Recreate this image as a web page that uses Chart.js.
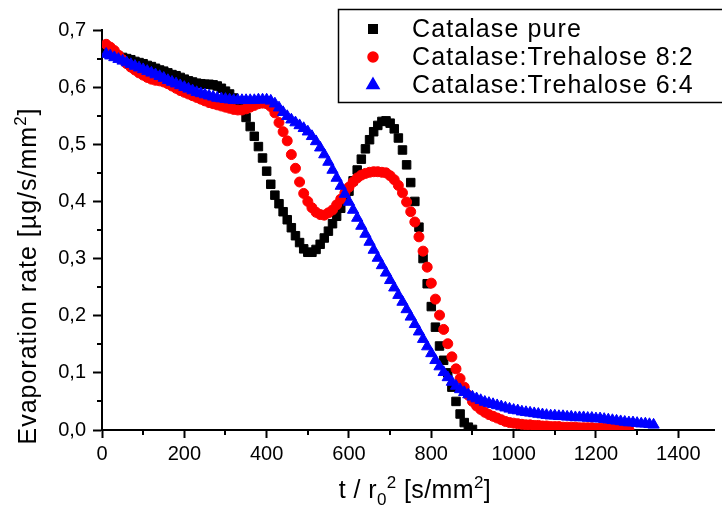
<!DOCTYPE html>
<html>
<head>
<meta charset="utf-8">
<script src="https://cdn.jsdelivr.net/npm/chart.js@4.4.0/dist/chart.umd.min.js"></script>
<style>
  html, body { margin: 0; padding: 0; background: #fff; }
  #chart { display: block; }
</style>
</head>
<body>
<canvas id="chart" width="722" height="509"></canvas>
<script>
// t / r0^2 in s/mm^2, shared by all three series
const time = [
  10, 20, 30, 40, 50, 60, 70, 80, 90, 100,
  110, 120, 130, 140, 150, 160, 170, 180, 190, 200,
  210, 220, 230, 240, 250, 260, 270, 280, 290, 300,
  310, 320, 330, 340, 350, 360, 370, 380, 390, 400,
  410, 420, 430, 440, 450, 460, 470, 480, 490, 500,
  510, 520, 530, 540, 550, 560, 570, 580, 590, 600,
  610, 620, 630, 640, 650, 660, 670, 680, 690, 700,
  710, 720, 730, 740, 750, 760, 770, 780, 790, 800,
  810, 820, 830, 840, 850, 860, 870, 880, 890, 900,
  910, 920, 930, 940, 950, 960, 970, 980, 990, 1000,
  1010, 1020, 1030, 1040, 1050, 1060, 1070, 1080, 1090, 1100,
  1110, 1120, 1130, 1140, 1150, 1160, 1170, 1180, 1190, 1200,
  1210, 1220, 1230, 1240, 1250, 1260, 1270, 1280, 1290, 1300,
  1310, 1320, 1330, 1340
];

// evaporation rate, µg/s/mm^2
const catalasePure = [
  0.660, 0.658, 0.656, 0.654, 0.652, 0.650, 0.648, 0.645, 0.643, 0.641,
  0.638, 0.636, 0.633, 0.630, 0.628, 0.625, 0.622, 0.620, 0.617, 0.614,
  0.611, 0.609, 0.607, 0.606, 0.605, 0.605, 0.604, 0.602, 0.598, 0.593,
  0.588, 0.581, 0.572, 0.562, 0.547, 0.531, 0.514, 0.496, 0.476, 0.453,
  0.430, 0.411, 0.396, 0.382, 0.368, 0.354, 0.340, 0.328, 0.317, 0.311,
  0.311, 0.316, 0.325, 0.336, 0.348, 0.361, 0.374, 0.388, 0.402, 0.418,
  0.436, 0.455, 0.474, 0.492, 0.508, 0.522, 0.533, 0.540, 0.541, 0.537,
  0.527, 0.511, 0.490, 0.464, 0.433, 0.400, 0.355, 0.300, 0.256, 0.216,
  0.180, 0.147, 0.122, 0.100, 0.075, 0.050, 0.028, 0.013, 0.005, 0.001
];

const trehalose82 = [
  0.675, 0.670, 0.664, 0.656, 0.648, 0.641, 0.635, 0.630, 0.625, 0.621,
  0.617, 0.614, 0.612, 0.611, 0.609, 0.606, 0.602, 0.598, 0.594, 0.591,
  0.588, 0.585, 0.582, 0.579, 0.576, 0.573, 0.571, 0.569, 0.567, 0.565,
  0.563, 0.561, 0.560, 0.560, 0.562, 0.565, 0.568, 0.571, 0.572, 0.571,
  0.566, 0.555, 0.538, 0.522, 0.506, 0.482, 0.458, 0.434, 0.414, 0.400,
  0.389, 0.381, 0.377, 0.376, 0.380, 0.385, 0.394, 0.404, 0.415, 0.425,
  0.434, 0.441, 0.446, 0.449, 0.451, 0.452, 0.452, 0.451, 0.450, 0.445,
  0.438, 0.428, 0.415, 0.399, 0.382, 0.364, 0.338, 0.313, 0.285, 0.257,
  0.229, 0.201, 0.176, 0.151, 0.128, 0.107, 0.090, 0.075, 0.061, 0.050,
  0.042, 0.036, 0.031, 0.027, 0.024, 0.021, 0.018, 0.015, 0.013, 0.012,
  0.011, 0.010, 0.009, 0.009, 0.008, 0.008, 0.007, 0.007, 0.006, 0.006,
  0.006, 0.005, 0.005, 0.005, 0.005, 0.004, 0.004, 0.004, 0.004, 0.003,
  0.003, 0.003, 0.003, 0.002, 0.002, 0.002, 0.001, 0.001
];

const trehalose64 = [
  0.658, 0.655, 0.652, 0.649, 0.646, 0.643, 0.640, 0.637, 0.634, 0.631,
  0.628, 0.625, 0.622, 0.619, 0.616, 0.612, 0.609, 0.606, 0.603, 0.600,
  0.597, 0.594, 0.591, 0.589, 0.587, 0.585, 0.583, 0.581, 0.580, 0.579,
  0.578, 0.577, 0.577, 0.577, 0.577, 0.577, 0.577, 0.578, 0.578, 0.578,
  0.576, 0.571, 0.564, 0.556, 0.549, 0.543, 0.538, 0.533, 0.528, 0.522,
  0.514, 0.505, 0.494, 0.482, 0.469, 0.455, 0.441, 0.427, 0.413, 0.399,
  0.385, 0.371, 0.357, 0.343, 0.329, 0.315, 0.301, 0.288, 0.275, 0.262,
  0.249, 0.236, 0.224, 0.211, 0.198, 0.185, 0.172, 0.159, 0.146, 0.134,
  0.122, 0.111, 0.101, 0.092, 0.084, 0.077, 0.071, 0.066, 0.062, 0.058,
  0.055, 0.052, 0.049, 0.047, 0.045, 0.043, 0.041, 0.039, 0.037, 0.035,
  0.034, 0.032, 0.031, 0.030, 0.029, 0.028, 0.027, 0.026, 0.025, 0.025,
  0.024, 0.024, 0.023, 0.023, 0.022, 0.022, 0.022, 0.021, 0.021, 0.020,
  0.020, 0.019, 0.018, 0.017, 0.016, 0.015, 0.014, 0.013, 0.013, 0.012,
  0.011, 0.011, 0.010, 0.009
];

const seriesNames = ['Catalase pure', 'Catalase:Trehalose 8:2', 'Catalase:Trehalose 6:4'];
const seriesColors = ['#000000', '#ff0000', '#0000ff'];
const seriesMarkers = ['rect', 'circle', 'triangle'];
const seriesRadius = [6, 5, 6.5];

const xTicks = [0, 200, 400, 600, 800, 1000, 1200, 1400];
const xMinorTicks = [100, 300, 500, 700, 900, 1100, 1300];
const yTicks = [0, 0.1, 0.2, 0.3, 0.4, 0.5, 0.6, 0.7];
const yMinorTicks = [0.05, 0.15, 0.25, 0.35, 0.45, 0.55, 0.65];

const FONT = '"Liberation Sans", Arial, sans-serif';

function toPoints(values) {
  return values.map((v, i) => ({ x: time[i], y: v }));
}

// text with sub/superscripts, centred on (cx, cy)
function drawRich(ctx, parts, size, spacing, cx, cy) {
  const small = Math.round(size * 0.68);
  ctx.letterSpacing = spacing + 'px';
  let total = 0;
  parts.forEach(p => {
    ctx.font = `${p.sup || p.sub ? small : size}px ${FONT}`;
    p.w = ctx.measureText(p.t).width;
    total += p.w;
  });
  let x = cx - total / 2;
  const base = cy + size * 0.36;
  ctx.textAlign = 'left';
  ctx.textBaseline = 'alphabetic';
  parts.forEach(p => {
    ctx.font = `${p.sup || p.sub ? small : size}px ${FONT}`;
    let y = base;
    if (p.sup) y -= size * 0.42;
    if (p.sub) y += size * 0.28;
    ctx.fillText(p.t, x, y);
    x += p.w;
  });
  ctx.letterSpacing = '0px';
}

const decorations = {
  id: 'decorations',
  afterDraw(chart) {
    const ctx = chart.ctx;
    const xs = chart.scales.x;
    const ys = chart.scales.y;
    ctx.save();

    // minor ticks
    ctx.strokeStyle = '#000';
    ctx.lineWidth = 2;
    ctx.beginPath();
    xMinorTicks.forEach(v => {
      const px = Math.round(xs.getPixelForValue(v));
      ctx.moveTo(px, ys.bottom);
      ctx.lineTo(px, ys.bottom + 5);
    });
    yMinorTicks.forEach(v => {
      const py = Math.round(ys.getPixelForValue(v));
      ctx.moveTo(xs.left, py);
      ctx.lineTo(xs.left - 5, py);
    });
    ctx.stroke();

    // axis titles
    ctx.fillStyle = '#000';
    drawRich(ctx, [
      { t: 't / r' }, { t: '0', sub: true }, { t: '2', sup: true },
      { t: ' [s/mm' }, { t: '2', sup: true }, { t: ']' }
    ], 25, 0.4, 415, 489);

    ctx.save();
    ctx.translate(27, 276);
    ctx.rotate(-Math.PI / 2);
    drawRich(ctx, [
      { t: 'Evaporation rate [µg/s/mm' }, { t: '2', sup: true }, { t: ']' }
    ], 25, 1, 0, 0);
    ctx.restore();

    // legend box
    ctx.lineWidth = 1.5;
    ctx.strokeStyle = '#000';
    ctx.strokeRect(338.5, 9.5, 400, 93);
    ctx.font = `25px ${FONT}`;
    ctx.letterSpacing = '1.1px';
    ctx.textAlign = 'left';
    ctx.textBaseline = 'middle';
    seriesNames.forEach((name, i) => {
      const y = 29 + i * 28;
      ctx.fillStyle = seriesColors[i];
      ctx.strokeStyle = seriesColors[i];
      Chart.helpers.drawPoint(ctx, {
        pointStyle: seriesMarkers[i], radius: i === 2 ? 7 : seriesRadius[i], borderWidth: 1, rotation: 0
      }, 373, y);
      ctx.fillStyle = '#000';
      ctx.fillText(name, 412, y + 1);
    });
    ctx.letterSpacing = '0px';

    ctx.restore();
  }
};

const datasets = [catalasePure, trehalose82, trehalose64].map((vals, i) => ({
  label: seriesNames[i],
  data: toPoints(vals),
  pointStyle: seriesMarkers[i],
  pointRadius: seriesRadius[i],
  pointBackgroundColor: seriesColors[i],
  pointBorderColor: seriesColors[i],
  pointBorderWidth: 1,
  showLine: false,
  order: 3 - i
}));

new Chart(document.getElementById('chart'), {
  type: 'scatter',
  data: { datasets },
  plugins: [decorations],
  options: {
    responsive: false,
    animation: false,
    devicePixelRatio: 1,
    layout: { padding: { top: 30, right: 0, bottom: 0, left: 0 } },
    plugins: {
      legend: { display: false },
      tooltip: { enabled: false }
    },
    scales: {
      x: {
        type: 'linear',
        min: 0,
        max: 1488,
        border: { color: '#000', width: 2 },
        grid: { drawOnChartArea: false, tickLength: 8, tickColor: '#000', tickWidth: 2 },
        ticks: {
          color: '#000',
          font: { size: 20, family: FONT },
          padding: 4,
          maxRotation: 0,
          autoSkip: false,
          callback: v => String(v)
        },
        afterBuildTicks: s => { s.ticks = xTicks.map(v => ({ value: v })); },
        afterFit: s => { s.height = 79; }
      },
      y: {
        min: 0,
        max: 0.7,
        border: { color: '#000', width: 2 },
        grid: { drawOnChartArea: false, tickLength: 9, tickColor: '#000', tickWidth: 2 },
        ticks: {
          color: '#000',
          font: { size: 20, family: FONT },
          padding: 7,
          callback: v => v.toFixed(1).replace('.', ',')
        },
        afterBuildTicks: s => { s.ticks = yTicks.map(v => ({ value: v })); },
        afterFit: s => { s.width = 102; }
      }
    }
  }
});
</script>
</body>
</html>
